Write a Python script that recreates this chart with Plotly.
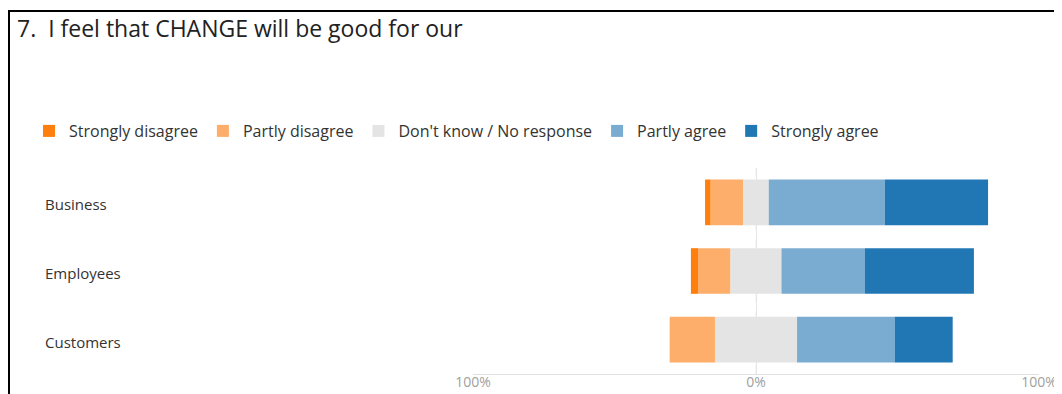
import numpy as np
import plotly.graph_objects as go

categories = ["Business", "Employees", "Customers"]
strongly_disagree = [2.0, 2.5, 0.0]
partly_disagree = [11.5, 11.5, 16.0]
dont_know = [9.0, 18.0, 29.0]
partly_agree = [41.0, 29.5, 34.5]
strongly_agree = [36.5, 38.5, 20.5]

series_names = ["Strongly disagree", "Partly disagree", "Don't know / No response",
                "Partly agree", "Strongly agree"]
series_colors = ["#ff7f0e", "#fdae6b", "#e4e4e4", "#7aacd1", "#2077b4"]
tick_vals = [-100, 0, 100]
tick_text = ["100%", "0%", "100%"]
title_text = "7.\u00a0 I feel that CHANGE will be good for our"

# page body has an 8px margin; work in screen pixels and convert
OFF = 8
SW, SH = 1062, 394
W, H = SW - OFF, SH - OFF
PL, PR, PT, PB = 473, 1039, 168, 374   # plot area in screen px
ML, MR, MT, MB = PL - OFF, SW - PR, PT - OFF, SH - PB
PW, PH = PR - PL, PB - PT

sd = np.array(strongly_disagree)
pd_ = np.array(partly_disagree)
dk = np.array(dont_know)
pa = np.array(partly_agree)
sa = np.array(strongly_agree)

start = -(sd + pd_ + dk / 2)
values = [sd, pd_, dk, pa, sa]
bases = []
cur = start.copy()
for v in values:
    bases.append(cur.copy())
    cur = cur + v

fig = go.Figure()
for name, color, v, b in zip(series_names, series_colors, values, bases):
    fig.add_trace(go.Bar(
        y=categories, x=v, base=b, name=name, orientation="h",
        marker=dict(color=color, line=dict(width=0)),
    ))

def px_x(sx):
    return (sx - PL) / PW

def px_y(sy):
    return (PB - sy) / PH

annotations = []
for c in categories:
    annotations.append(dict(
        x=px_x(43), xref="paper", y=c, yref="y", text=c, showarrow=False,
        xanchor="left", yanchor="middle", yshift=-2,
        font=dict(family="Open Sans", size=15, color="#333333"),
    ))

fig.update_layout(
    width=W, height=H,
    margin=dict(l=ML, r=MR, t=MT, b=MB),
    paper_bgcolor="white", plot_bgcolor="white",
    barmode="overlay", bargap=0.335,
    title=dict(text=title_text, x=(17 - OFF) / W, xanchor="left", xref="container",
               y=1 - (29 - OFF) / H, yanchor="middle", yref="container",
               font=dict(family="Open Sans", size=23, color="#222222")),
    legend=dict(orientation="h", x=px_x(29), xanchor="left", y=px_y(131),
                yanchor="middle", traceorder="normal",
                font=dict(family="Open Sans", size=16, color="#333333"),
                itemclick=False, bgcolor="rgba(0,0,0,0)"),
    showlegend=True,
    xaxis=dict(range=[-100, 100], tickvals=tick_vals, ticktext=tick_text,
               showgrid=True, gridcolor="#e6e6e6", gridwidth=1,
               zeroline=False, showline=True, linecolor="#e0e0e0", linewidth=1,
               ticks="", automargin=False, ticklabelstandoff=-5,
               tickfont=dict(family="Open Sans", size=14, color="#a0a0a0")),
    yaxis=dict(categoryorder="array", categoryarray=categories, autorange="reversed",
               showticklabels=False, showgrid=False, zeroline=False, automargin=False,
               range=[2.5, -0.5]),
    annotations=annotations,
    shapes=[
        dict(type="line", xref="x", yref="paper", x0=0, x1=0, y0=0, y1=1,
             line=dict(color="#ececec", width=1, dash="dash"), layer="below"),
        dict(type="line", xref="paper", yref="paper", x0=px_x(9), x1=px_x(9),
             y0=px_y(10), y1=px_y(SH + 5), line=dict(color="#000000", width=2)),
        dict(type="line", xref="paper", yref="paper", x0=px_x(8), x1=px_x(SW + 5),
             y0=px_y(11), y1=px_y(11), line=dict(color="#000000", width=2)),
    ],
)

fig.write_html("out.html")
